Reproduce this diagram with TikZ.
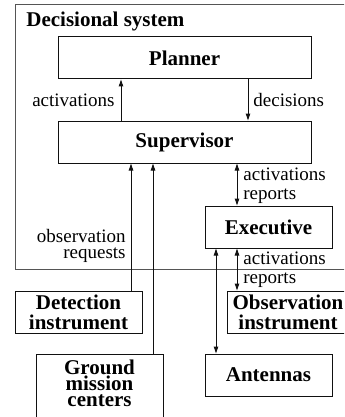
\documentclass[tikz,border=0pt]{standalone}
\usepackage{fontspec}
\setmainfont{Liberation Serif}
\usepackage{tikz}
\usetikzlibrary{arrows.meta,positioning}
\definecolor{Frame}{HTML}{555555}
\definecolor{Ink}{HTML}{111111}

\begin{document}
\begin{tikzpicture}[x=0.5pt,y=-0.5pt,
  every node/.style={align=center},
  box/.style={rectangle,draw=Ink,line width=0.5pt,inner sep=0pt,
    minimum width=63.5pt,minimum height=21pt,font=\fontsize{10.5}{10}\selectfont\bfseries},
  wide/.style={box,minimum width=126.5pt},
  lbl/.style={inner sep=1pt,font=\fontsize{9.5}{8}\selectfont},
  arrow/.style={-{Triangle[length=3.5pt,width=2.2pt]},line width=0.5pt,color=Ink},
  both/.style={{Triangle[length=3.5pt,width=2.2pt]}-{Triangle[length=3.5pt,width=2.2pt]},line width=0.5pt,color=Ink}
]
\useasboundingbox (0,0) rectangle (344,417);
\clip (0,0) rectangle (344,417);
% decisional system frame
\draw[Frame,line width=0.5pt] (15,5) rectangle (360,269);
\node[anchor=west,inner sep=0pt,font=\fontsize{10.5}{10}\selectfont\bfseries] (sys) at (26,21) {Decisional system};
\node[wide] (pla) at (184.5,58) {Planner};
\node[wide] (sup) at (184.5,142) {Supervisor};
\node[box] (exe) at (268.5,227) {Executive};
\node[box,minimum width=61pt] (obs) at (288,312) {Observation\\instrument};
\node[box] (det) at (78.5,312) {Detection\\instrument};
\node[box] (ant) at (268.5,375) {Antennas};
\node[box,minimum height=33pt,text depth=3.6pt,font=\fontsize{10.5}{8.1}\selectfont\bfseries] (gro) at (99.5,387) {Ground\\mission\\centers};
% columns of the connectors
\coordinate (c1) at (121,0);
\coordinate (c2) at (248,0);
\coordinate (c3) at (131,0);
\coordinate (c4) at (153,0);
\coordinate (c5) at (237,0);
\coordinate (c6) at (216,0);
\draw[arrow] (sup.north -| c1) -- (pla.south -| c1);
\draw[arrow] (pla.south -| c2) -- (sup.north -| c2);
\draw[both] (sup.south -| c5) -- (exe.north -| c5);
\draw[both] (exe.south -| c5) -- (obs.north -| c5);
\draw[both] (exe.south -| c6) -- (ant.north -| c6);
\draw[arrow] (det.north -| c3) -- (sup.south -| c3);
\draw[arrow] (gro.north -| c4) -- (sup.south -| c4);
% labels
\node[lbl,anchor=east] (l1) at (117,100) {activations};
\node[lbl,anchor=west] (l2) at (251,100) {decisions};
\node[lbl,anchor=west] (l3) at (241,174) {activations};
\node[lbl,anchor=west] (l4) at (241,196) {reports};
\node[lbl,anchor=west] (l5) at (241,258) {activations};
\node[lbl,anchor=west] (l6) at (241,280) {reports};
\node[lbl,anchor=east,align=right] (l7) at (128,246) {observation\\requests};
\end{tikzpicture}
\end{document}
